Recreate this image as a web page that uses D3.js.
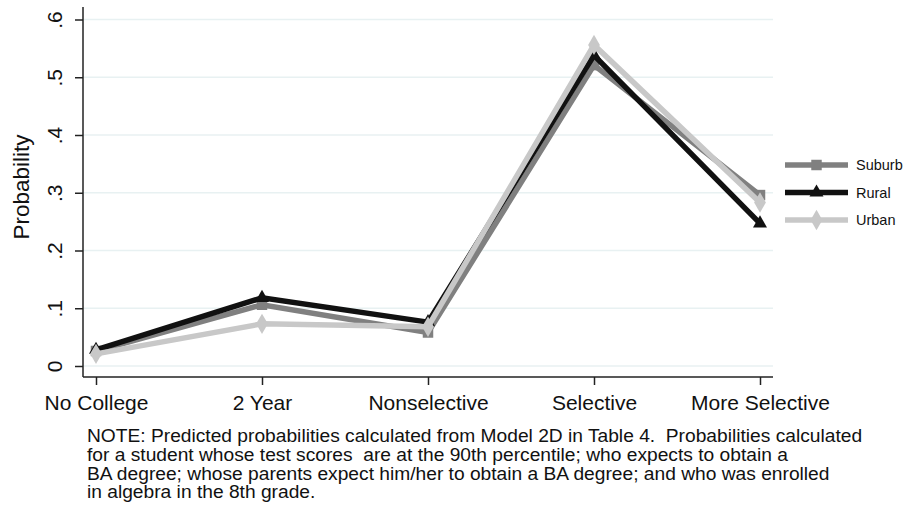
<!DOCTYPE html>
<html><head><meta charset="utf-8">
<script src="https://cdn.jsdelivr.net/npm/d3@7"></script>
<style>body{margin:0;background:#fff}svg{display:block;font-family:"Liberation Sans",Arial,Helvetica,sans-serif}</style>
</head><body><svg id="c" width="911" height="505"></svg>
<script>
const categories = ["No College","2 Year","Nonselective","Selective","More Selective"];
const suburb = [0.026, 0.106, 0.058, 0.521, 0.296];
const rural  = [0.028, 0.118, 0.076, 0.538, 0.247];
const urban  = [0.021, 0.073, 0.068, 0.556, 0.283];
const yTicks = [0, 0.1, 0.2, 0.3, 0.4, 0.5, 0.6];
const yTickLabels = ["0", ".1", ".2", ".3", ".4", ".5", ".6"];
const seriesNames = ["Suburb","Rural","Urban"];
const noteLines = [
 "NOTE: Predicted probabilities calculated from Model 2D in Table 4.  Probabilities calculated",
 "for a student whose test scores  are at the 90th percentile; who expects to obtain a",
 "BA degree; whose parents expect him/her to obtain a BA degree; and who was enrolled",
 "in algebra in the 8th grade."
];

const svg = d3.select("#c");
const x = d3.scalePoint().domain(categories).range([96, 760]);
const y = d3.scaleLinear().domain([0, 0.6]).range([366, 19.5]);
const plotLeft = 83, plotRight = 773, axisY = 377;

// gridlines
svg.append("g").selectAll("line").data(yTicks).join("line")
  .attr("x1", plotLeft).attr("x2", plotRight)
  .attr("y1", d => y(d)).attr("y2", d => y(d))
  .attr("stroke", "#e8f1f2").attr("stroke-width", 1.6);

// y axis
const yAxis = svg.append("g").attr("transform", `translate(${plotLeft},0)`)
  .call(d3.axisLeft(y).tickValues(yTicks).tickFormat((d,i) => yTickLabels[i]).tickSize(8).tickSizeOuter(0));
yAxis.select(".domain").remove();
yAxis.append("line").attr("x1",0).attr("x2",0).attr("y1",7).attr("y2",axisY).attr("stroke","#222").attr("stroke-width",1.5);
yAxis.selectAll(".tick line").attr("stroke","#222").attr("stroke-width",1.5);
yAxis.selectAll(".tick text").attr("font-size", 21).attr("fill","#111")
  .attr("x", null).attr("dy", null)
  .attr("transform", "translate(-21,0) rotate(-90)")
  .attr("text-anchor","middle");

// x axis
const xAxis = svg.append("g").attr("transform", `translate(0,${axisY})`)
  .call(d3.axisBottom(x).tickSize(8).tickSizeOuter(0));
xAxis.select(".domain").remove();
xAxis.append("line").attr("x1",plotLeft).attr("x2",plotRight).attr("y1",0).attr("y2",0).attr("stroke","#222").attr("stroke-width",1.5);
xAxis.selectAll(".tick line").attr("stroke","#222").attr("stroke-width",1.5);
xAxis.selectAll(".tick text").attr("font-size", 21).attr("fill","#111").attr("y", 33).attr("dy", null);

// y label
svg.append("text").attr("transform", "translate(29,187) rotate(-90)")
  .attr("text-anchor","middle").attr("font-size", 22.5).attr("fill","#111").text("Probability");

const series = [
  {name: seriesNames[0], values: suburb, color: "#808080", sym: d3.symbolSquare, size: 110},
  {name: seriesNames[1], values: rural, color: "#111111", sym: d3.symbolTriangle, size: 85},
  {name: seriesNames[2], values: urban, color: "#c8c8c8", sym: d3.symbolDiamond, size: 120}
];
const line = d3.line().x((d,i) => x(categories[i])).y(d => y(d));

series.forEach(s => {
  const g = svg.append("g");
  g.append("path").datum(s.values).attr("d", line).attr("fill","none")
    .attr("stroke", s.color).attr("stroke-width", 5.5).attr("stroke-linejoin","miter");
  g.selectAll("path.m").data(s.values).join("path").attr("class","m")
    .attr("d", d3.symbol().type(s.sym).size(s.size))
    .attr("transform", (d,i) => `translate(${x(categories[i])},${y(d)})`)
    .attr("fill", s.color);
});

// legend
const legY = [165, 192.5, 220];
series.forEach((s, i) => {
  const g = svg.append("g").attr("transform", `translate(0,${legY[i]})`);
  g.append("line").attr("x1",785).attr("x2",848).attr("stroke",s.color).attr("stroke-width",5.5);
  g.append("path").attr("d", d3.symbol().type(s.sym).size(s.size)).attr("transform","translate(816.5,0)").attr("fill",s.color);
  g.append("text").attr("x",856).attr("y",5).attr("font-size",14.5).attr("fill","#111").text(s.name);
});

// note (slightly horizontally stretched smaller font to keep line boxes apart)
svg.append("g").attr("transform","translate(87,0) scale(1.085,1)")
  .selectAll("text").data(noteLines).join("text")
  .attr("x", 0).attr("y", (d,i) => 442 + i*18.8)
  .attr("font-size", 17.7).attr("fill","#111")
  .attr("xml:space","preserve").style("white-space","pre")
  .text(d => d);
</script></body></html>
